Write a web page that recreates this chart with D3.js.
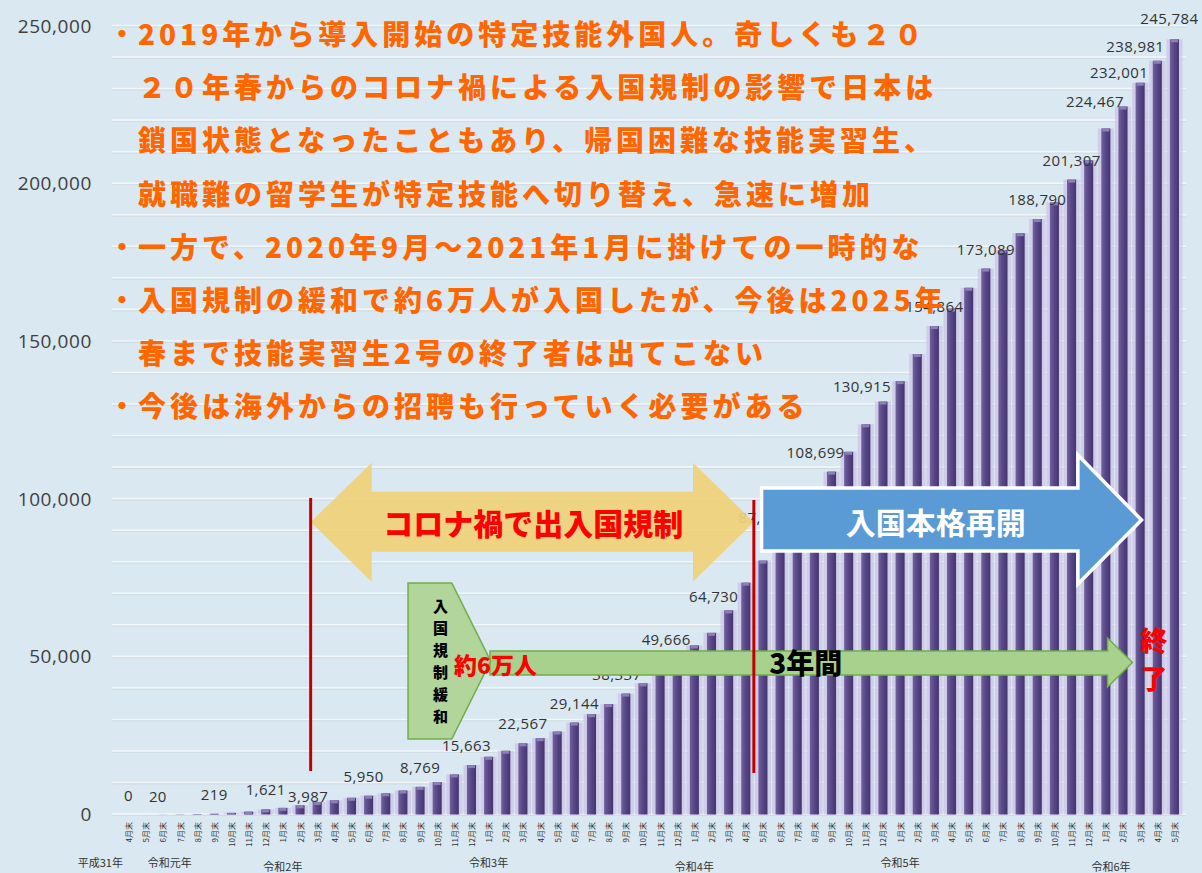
<!DOCTYPE html>
<html>
<head>
<meta charset="utf-8">
<script src="https://cdn.jsdelivr.net/npm/d3@7"></script>
<style>
body { margin: 0; background: #dae8f1; }
svg { display: block; }
</style>
</head>
<body>
<div id="chart"></div>
<script>
// data

let months = [
    '4月末','5月末','6月末','7月末','8月末','9月末','10月末','11月末','12月末',
    '1月末','2月末','3月末','4月末','5月末','6月末','7月末','8月末','9月末','10月末','11月末','12月末',
    '1月末','2月末','3月末','4月末','5月末','6月末','7月末','8月末','9月末','10月末','11月末','12月末',
    '1月末','2月末','3月末','4月末','5月末','6月末','7月末','8月末','9月末','10月末','11月末','12月末',
    '1月末','2月末','3月末','4月末','5月末','6月末','7月末','8月末','9月末','10月末','11月末','12月末',
    '1月末','2月末','3月末','4月末','5月末'
]

let counts = [
    0, 2, 20, 52, 120, 219, 520, 895, 1621,
    2100, 2900, 3987, 4500, 5300, 5950, 6700, 7600, 8769, 10300, 12700, 15663,
    18300, 20200, 22567, 24200, 26300, 29144, 31800, 35000, 38337, 41600, 45700, 49666,
    53600, 57600, 64730, 73500, 80500, 87471, 94500, 101500, 108699, 115000, 123700, 130915,
    137400, 146000, 154864, 160400, 167000, 173089, 179000, 184300, 188790, 194100, 201307, 207400,
    217500, 224467, 232001, 238981, 245784
]

// bars that carry a value label
let labelIdx = [0, 2, 5, 8, 11, 14, 17, 20, 23, 26, 29, 32, 35, 38, 41, 44, 47, 50, 53, 55, 58, 59, 60, 61]

let yTicks = [0, 50000, 100000, 150000, 200000, 250000]

let eras = ['平成31年', '令和元年', '令和2年', '令和3年', '令和4年', '令和5年', '令和6年']
let eraMonth = [-1.65, 2.4, 9, 21, 33, 45, 57.3]

let notes = [
    '・2019年から導入開始の特定技能外国人。奇しくも２０',
    '２０年春からのコロナ禍による入国規制の影響で日本は',
    '鎖国状態となったこともあり、帰国困難な技能実習生、',
    '就職難の留学生が特定技能へ切り替え、急速に増加',
    '・一方で、2020年9月～2021年1月に掛けての一時的な',
    '・入国規制の緩和で約6万人が入国したが、今後は2025年',
    '春まで技能実習生2号の終了者は出てこない',
    '・今後は海外からの招聘も行っていく必要がある'
]

// hand-placed label offsets, as in the original slide
let nudge = {
    2: [-5, 2], 11: [-9, 14], 14: [-5, 0], 20: [-5, 0], 29: [-9, 0], 32: [-11, 1],
    35: [-15, 6], 38: [-17, -2], 41: [-16, 0], 44: [-21, 4], 58: [-28, 14],
    59: [-21, 9], 60: [-22, 5], 61: [-5, -1]
}

let width = 1202, height = 873
const JP = '"Noto Sans CJK JP", "Noto Sans", sans-serif'

let svg = d3.select('#chart')
.append('svg')
.attr('width', width)
.attr('height', height)

svg.append('rect')
.attr('width', width)
.attr('height', height)
.attr('fill', '#dae8f1')

let defs = svg.append('defs')
let grad = defs.append('linearGradient').attr('id', 'barGrad')
grad.append('stop').attr('offset', '0%').attr('stop-color', '#7161a0')
grad.append('stop').attr('offset', '45%').attr('stop-color', '#594887')
grad.append('stop').attr('offset', '100%').attr('stop-color', '#443470')

let x = d3.scaleBand()
.domain(d3.range(counts.length))
.range([120, 1183])
.paddingInner(0.47)
.paddingOuter(0.235)

let bw = x.bandwidth()

// month index -> bar centre, used for annotations
let xi = d3.scaleLinear()
.domain([0, counts.length - 1])
.range([x(0) + bw / 2, x(counts.length - 1) + bw / 2])

let y = d3.scaleLinear()
.domain([0, 250000])
.range([814.5, 26])

// grid
let grid = svg.append('g').attr('class', 'grid')
grid.selectAll('line.w')
.data(d3.range(0, 250001, 10000))
.join('line')
.attr('class', 'w')
.attr('x1', 112).attr('x2', 1186)
.attr('y1', d => y(d) - 0.5).attr('y2', d => y(d) - 0.5)
.style('stroke', '#f3f7fa')
.style('stroke-width', 1.5)
grid.selectAll('line.g')
.data(d3.range(0, 250001, 10000))
.join('line')
.attr('class', 'g')
.attr('x1', 112).attr('x2', 1186)
.attr('y1', d => y(d) + 1).attr('y2', d => y(d) + 1)
.style('stroke', '#cdd8e0')
.style('stroke-width', 0.8)

// y axis
let yAxis = svg.append('g')
.attr('transform', 'translate(92,0)')
.call(d3.axisLeft(y).tickValues(yTicks).tickFormat(d3.format(',')).tickSize(0).tickPadding(0))
yAxis.select('.domain').remove()
yAxis.selectAll('text')
.style('font-family', '"Open Sans", sans-serif')
.style('font-size', '19px')
.style('letter-spacing', '0.6px')
.style('fill', '#404040')

// bars
let bars = svg.append('g').attr('class', 'bars')
bars.selectAll('rect.halo')
.data(counts)
.join('rect')
.attr('class', 'halo')
.attr('x', (d, i) => x(i) - 3.5)
.attr('width', bw + 7)
.attr('y', d => y(d))
.attr('height', d => y(0) - y(d))
.attr('fill', '#cbc4e4')
.attr('opacity', 0.75)
bars.selectAll('rect.bar')
.data(counts)
.join('rect')
.attr('class', 'bar')
.attr('x', (d, i) => x(i))
.attr('width', bw)
.attr('y', d => y(d))
.attr('height', d => y(0) - y(d))
.attr('fill', 'url(#barGrad)')
bars.selectAll('rect.cap')
.data(counts)
.join('rect')
.attr('class', 'cap')
.attr('x', (d, i) => x(i) + 1)
.attr('width', bw - 2)
.attr('y', d => y(d))
.attr('height', d => Math.min(3, y(0) - y(d)))
.attr('fill', '#8c7eb6')

// value labels
svg.append('g')
.selectAll('text')
.data(labelIdx)
.join('text')
.attr('x', i => xi(i) + (nudge[i] ? nudge[i][0] : 0))
.attr('y', i => y(counts[i]) - 14 + (nudge[i] ? nudge[i][1] : 0))
.attr('text-anchor', 'middle')
.style('font-family', '"Open Sans", sans-serif')
.style('font-size', '15px')
.style('letter-spacing', '0.4px')
.style('fill', '#333')
.text(i => d3.format(',')(counts[i]))

// month ticks
svg.append('g')
.selectAll('text')
.data(months)
.join('text')
.attr('transform', (d, i) => `translate(${xi(i)},822) rotate(-90)`)
.attr('text-anchor', 'end')
.attr('dominant-baseline', 'central')
.style('font-family', JP)
.style('font-size', '8px')
.style('fill', '#333')
.text(d => d)

// era labels
svg.append('g')
.selectAll('text')
.data(eras)
.join('text')
.attr('x', (d, i) => xi(eraMonth[i]))
.attr('y', (d, i) => (i >= 2 && i % 2 == 0) ? 866 : 862)
.attr('text-anchor', 'middle')
.attr('dominant-baseline', 'central')
.style('font-family', JP)
.style('font-size', '11px')
.style('fill', '#333')
.text(d => d)

// annotations
let line = d3.line()
let ann = svg.append('g').attr('class', 'ann')

let yl = [462.7, 491.7, 522, 551.7, 581.7]
ann.append('path')
.attr('d', line([
    [xi(10.62), yl[2]], [xi(14.18), yl[0]], [xi(14.18), yl[1]], [xi(32.92), yl[1]], [xi(32.92), yl[0]],
    [xi(36.47), yl[2]], [xi(32.92), yl[4]], [xi(32.92), yl[3]], [xi(14.18), yl[3]], [xi(14.18), yl[4]]
]) + 'Z')
.attr('fill', '#efd27a')
.attr('opacity', 0.93)

ann.append('path')
.attr('d', line([
    [xi(36.92), 488], [xi(55.37), 488], [xi(55.37), 455], [xi(59.08), 520],
    [xi(55.37), 584], [xi(55.37), 551], [xi(36.92), 551]
]) + 'Z')
.attr('fill', '#5b9bd5')
.attr('stroke', '#fff')
.attr('stroke-width', 3.5)

ann.append('path')
.attr('d', line([
    [xi(21.08), 651], [xi(57.1), 651], [xi(57.1), 638], [xi(58.55), 662.5],
    [xi(57.1), 687], [xi(57.1), 675], [xi(21.08), 675]
]) + 'Z')
.attr('fill', '#a9d18e')
.attr('stroke', '#70ad47')
.attr('stroke-width', 1.5)

ann.append('path')
.attr('d', line([
    [xi(16.3), 583], [xi(18.85), 583], [xi(21.12), 661], [xi(18.85), 739], [xi(16.3), 739]
]) + 'Z')
.attr('fill', '#b1d59b')
.attr('stroke', '#70ad47')
.attr('stroke-width', 1.5)

ann.selectAll('line.red')
.data([[10.62, 498, 771], [36.47, 500, 773]])
.join('line')
.attr('class', 'red')
.attr('x1', d => xi(d[0])).attr('x2', d => xi(d[0]))
.attr('y1', d => d[1]).attr('y2', d => d[2])
.style('stroke', '#c00000')
.style('stroke-width', 3)

function label(txt, cx, cy, size, color, weight) {
    return ann.append('text')
    .attr('x', cx).attr('y', cy)
    .attr('text-anchor', 'middle')
    .attr('dominant-baseline', 'central')
    .style('font-family', JP)
    .style('font-size', size + 'px')
    .style('font-weight', weight || 900)
    .style('fill', color)
    .text(txt)
}

label('コロナ禍で出入国規制', (xi(10.62) + xi(36.47)) / 2 + 1, 522, 30, '#ff0000')
label('入国本格再開', (xi(36.92) + xi(55.37)) / 2 + 16, 521, 30, '#ffffff', 700)
label('約6万人', xi(21.4), 664, 23, '#ff0000')
label('3年間', xi(39.5), 662, 28, '#000')
label('終', xi(59.8), 639, 27, '#ff0000')
label('了', xi(59.8), 677, 27, '#ff0000')

'入国規制緩和'.split('').forEach((c, k) => {
    label(c, xi(18.2), 605 + k * 22, 15, '#000')
})

// orange notes
let notesG = svg.append('g')
notes.forEach((t, k) => {
    let cy = 33 + k * 53.2
    let body = t
    if (t[0] == '・') {
        notesG.append('text')
        .attr('x', 122).attr('y', cy)
        .attr('text-anchor', 'middle')
        .attr('dominant-baseline', 'central')
        .style('font-family', JP)
        .style('font-size', '28px')
        .style('font-weight', 700)
        .style('fill', '#ff6600')
        .text('・')
        body = t.slice(1)
    }
    notesG.append('text')
    .attr('x', 138).attr('y', cy)
    .attr('dominant-baseline', 'central')
    .style('font-family', JP)
    .style('font-size', '28px')
    .style('font-weight', 900)
    .style('letter-spacing', '4px')
    .style('fill', '#ff6600')
    .text(body)
})
</script>
</body>
</html>
